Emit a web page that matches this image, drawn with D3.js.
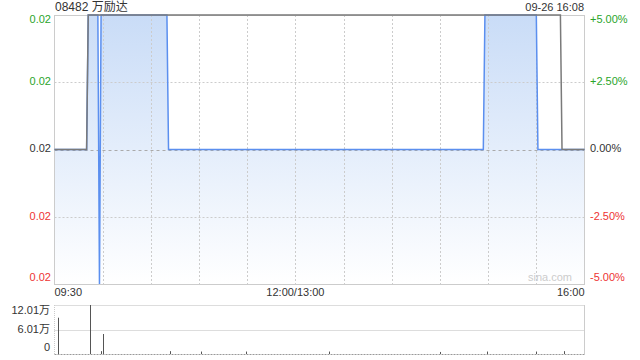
<!DOCTYPE html>
<html>
<head>
<meta charset="utf-8">
<script src="https://cdn.jsdelivr.net/npm/d3@7"></script>
<style>
  body { margin: 0; background: #fff; }
  svg { display: block; font-family: Arial, "Liberation Sans", "Noto Sans CJK SC", sans-serif; }
</style>
</head>
<body>
<svg width="640" height="360"></svg>
<script>
// minutes after 09:30 (lunch break removed), 0..330
var priceTimes = [0, 20, 21, 27, 28, 29, 70, 71, 267, 268, 300, 301, 330];
var priceValues = [0.020, 0.020, 0.021, 0.021, 0.019, 0.021, 0.021, 0.020, 0.020, 0.021, 0.021, 0.020, 0.020];
var avgTimes = [0, 20, 21, 315, 316, 330];
var avgValues = [0.020, 0.020, 0.021, 0.021, 0.020, 0.020];

var volTimes = [2, 22, 29, 30, 72, 91, 119, 171, 240, 269, 300, 317];
var volValues = [89000, 120100, 7000, 49000, 7000, 6000, 6000, 6000, 5000, 6000, 6000, 7000];

var prevClose = 0.020;
var pctTicks = [0.05, 0.025, 0, -0.025, -0.05];
var priceLabels = ["0.02", "0.02", "0.02", "0.02", "0.02"];
var pctLabels = ["+5.00%", "+2.50%", "0.00%", "-2.50%", "-5.00%"];
var volTicks = [120100, 60100, 0];
var volLabels = ["12.01万", "6.01万", "0"];
var timeLabels = ["09:30", "12:00/13:00", "16:00"];
var timeLabelPos = [0, 150, 330];

var svg = d3.select("svg");
var pLeft = 54.5, pRight = 584.5, pTop = 15, pBottom = 284;
var vTop = 305, vBottom = 354;

var x = d3.scaleLinear().domain([0, 330]).range([pLeft, pRight]);
var y = d3.scaleLinear().domain([prevClose * 0.95, prevClose * 1.05]).range([pBottom, pTop]);
var yv = d3.scaleLinear().domain([0, 120100]).range([vBottom, vTop]);

var green = "#2aa52a", red = "#ee3333";
function tickColor(p) { return p > 0 ? green : (p < 0 ? red : "#333"); }

// gradient for area
var grad = svg.append("defs").append("linearGradient")
  .attr("id", "fillGrad")
  .attr("gradientUnits", "userSpaceOnUse")
  .attr("x1", 0).attr("y1", pTop).attr("x2", 0).attr("y2", pBottom);
grad.append("stop").attr("offset", "0%").attr("stop-color", "#c9dcf7");
grad.append("stop").attr("offset", "100%").attr("stop-color", "#ffffff");

var pricePts = priceTimes.map(function(t, i) { return [t, priceValues[i]]; });
var avgPts = avgTimes.map(function(t, i) { return [t, avgValues[i]]; });

// area
var area = d3.area()
  .x(function(d) { return x(d[0]); })
  .y0(pBottom)
  .y1(function(d) { return y(d[1]); });
svg.append("path").datum(pricePts).attr("d", area).attr("fill", "url(#fillGrad)");

// horizontal grid
pctTicks.forEach(function(p) {
  if (p === 0.05 || p === -0.05) return;
  var yy = Math.round(y(prevClose * (1 + p))) + 0.5;
  svg.append("line")
    .attr("x1", pLeft).attr("x2", pRight)
    .attr("y1", yy).attr("y2", yy)
    .attr("stroke", p === 0 ? "#aaa" : "#ccc")
    .attr("stroke-dasharray", p === 0 ? "3,3" : "2,2");
});
// vertical grid every 30 min
d3.range(30, 330, 30).forEach(function(t) {
  svg.append("line")
    .attr("x1", Math.round(x(t)) + 0.5).attr("x2", Math.round(x(t)) + 0.5)
    .attr("y1", pTop).attr("y2", pBottom)
    .attr("stroke", "#ccc").attr("stroke-dasharray", "2,2");
});

// frame
svg.append("rect")
  .attr("x", pLeft).attr("y", pTop + 0.5).attr("width", pRight - pLeft).attr("height", pBottom - pTop)
  .attr("fill", "none").attr("stroke", "#ccc");

// watermark
svg.append("text").attr("x", 572).attr("y", 278).attr("text-anchor", "end")
  .attr("dominant-baseline", "middle").attr("font-size", 11).attr("fill", "#ccc").text("sina.com");

// price line and average line
var line = d3.line().x(function(d) { return x(d[0]); }).y(function(d) { return y(d[1]); });
svg.append("path").datum(pricePts).attr("d", line)
  .attr("fill", "none").attr("stroke", "#5b8fef").attr("stroke-width", 1.5);
svg.append("path").datum(avgPts).attr("d", line)
  .attr("fill", "none").attr("stroke", "#7a7a7a").attr("stroke-width", 1.5);

// y labels
pctTicks.forEach(function(p, i) {
  var yy = y(prevClose * (1 + p));
  if (i === 0) yy = 20;
  if (i === pctTicks.length - 1) yy = 278;
  svg.append("text").attr("x", 51).attr("y", yy).attr("text-anchor", "end")
    .attr("dominant-baseline", "middle").attr("font-size", 11)
    .attr("fill", tickColor(p)).text(priceLabels[i]);
  svg.append("text").attr("x", 590).attr("y", yy)
    .attr("dominant-baseline", "middle").attr("font-size", 11)
    .attr("fill", tickColor(p)).text(pctLabels[i]);
});

// time labels
timeLabels.forEach(function(s, i) {
  svg.append("text").attr("x", x(timeLabelPos[i])).attr("y", 293)
    .attr("text-anchor", i === 0 ? "start" : (i === 2 ? "end" : "middle"))
    .attr("dominant-baseline", "middle").attr("font-size", 11).attr("fill", "#333").text(s);
});

// title
svg.append("text").attr("x", 55).attr("y", 8).attr("dominant-baseline", "middle")
  .attr("font-size", 12).attr("fill", "#333").text("08482 万励达");
svg.append("text").attr("x", 584).attr("y", 8).attr("text-anchor", "end").attr("dominant-baseline", "middle")
  .attr("font-size", 11).attr("fill", "#333").text("09-26 16:08");

// volume panel
[vTop, (vTop + vBottom) / 2].forEach(function(yy) {
  svg.append("line").attr("x1", pLeft).attr("x2", pRight)
    .attr("y1", Math.round(yy) + 0.5).attr("y2", Math.round(yy) + 0.5)
    .attr("stroke", "#bbb").attr("stroke-dasharray", "1,1");
});
svg.append("line").attr("x1", pLeft).attr("x2", pRight).attr("y1", vBottom + 0.5).attr("y2", vBottom + 0.5)
  .attr("stroke", "#999").attr("stroke-dasharray", "2,1");
svg.append("line").attr("x1", pLeft).attr("x2", pLeft).attr("y1", vTop).attr("y2", vBottom)
  .attr("stroke", "#ccc").attr("stroke-dasharray", "1,1");
svg.append("line").attr("x1", pRight).attr("x2", pRight).attr("y1", vTop).attr("y2", vBottom)
  .attr("stroke", "#ccc");

svg.selectAll(".vol").data(volTimes).enter().append("line")
  .attr("class", "vol")
  .attr("x1", function(t) { return Math.round(x(t)) + 0.5; })
  .attr("x2", function(t) { return Math.round(x(t)) + 0.5; })
  .attr("y1", vBottom)
  .attr("y2", function(t, i) { return yv(volValues[i]); })
  .attr("stroke", "#555").attr("stroke-width", 1);

var volLabelY = [311.5, 330, 348];
volLabels.forEach(function(s, i) {
  svg.append("text").attr("x", 50).attr("y", volLabelY[i]).attr("text-anchor", "end")
    .attr("dominant-baseline", "middle").attr("font-size", 11).attr("fill", "#333").text(s);
});
</script>
</body>
</html>
